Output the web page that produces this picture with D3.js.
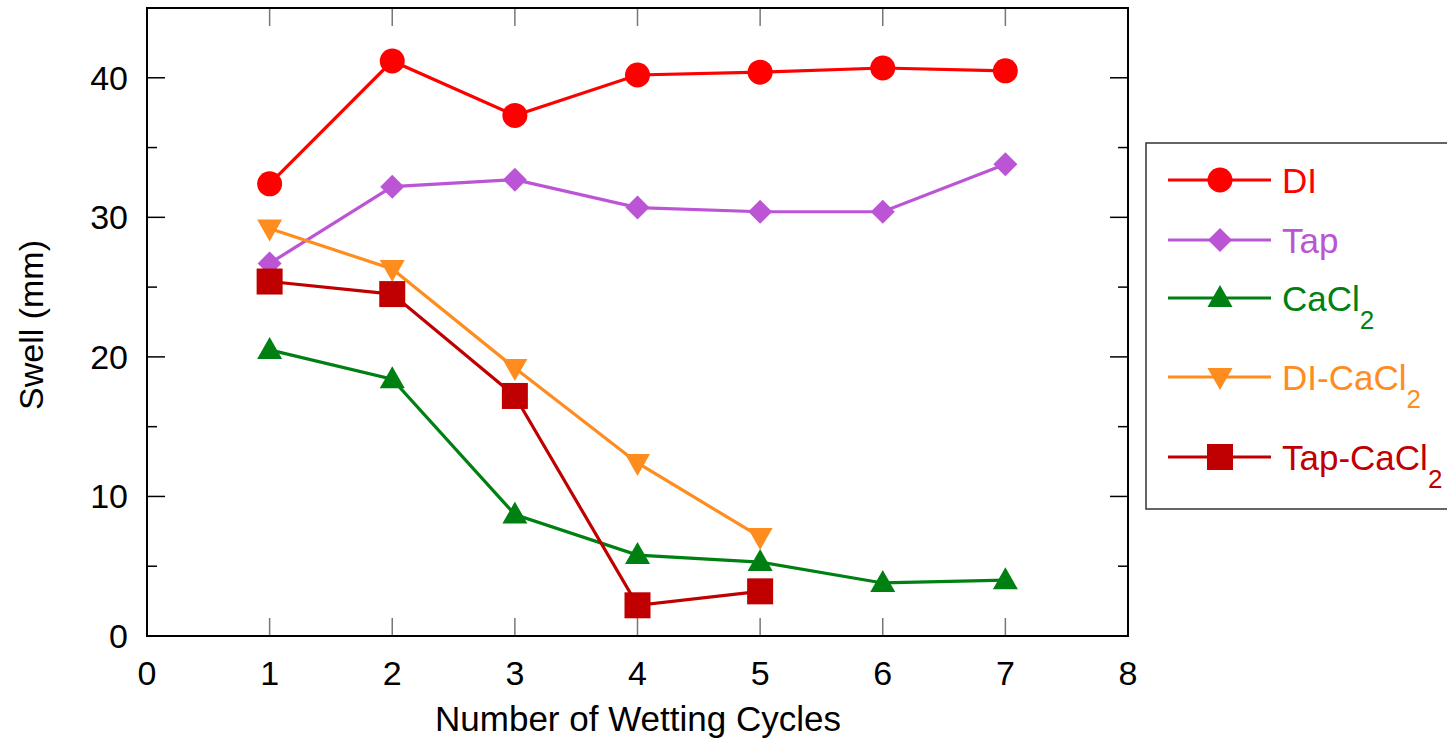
<!DOCTYPE html>
<html>
<head>
<meta charset="utf-8">
<script src="https://cdn.jsdelivr.net/npm/d3@7"></script>
<style>
  body { margin: 0; background: #fff; }
  svg { display: block; font-family: "Liberation Sans", Arial, sans-serif; }
</style>
</head>
<body>
<div id="chart"></div>
<script>
// data
const cycles = [1, 2, 3, 4, 5, 6, 7];
const diSwell = [32.4, 41.2, 37.3, 40.2, 40.4, 40.7, 40.5];
const tapSwell = [26.7, 32.2, 32.7, 30.7, 30.4, 30.4, 33.8];
const cacl2Swell = [20.5, 18.4, 8.7, 5.8, 5.3, 3.8, 4.0];
const diCacl2Swell = [29.2, 26.3, 19.2, 12.4, 7.1];
const tapCacl2Swell = [25.4, 24.5, 17.2, 2.2, 3.2];

const xTicks = [0, 1, 2, 3, 4, 5, 6, 7, 8];
const yTicks = [0, 10, 20, 30, 40];
const yMinor = [5, 15, 25, 35, 45];

const series = [
    { name: "DI", sub: "", values: diSwell, color: "#ff0000", symbol: "circle" },
    { name: "Tap", sub: "", values: tapSwell, color: "#bb55d5", symbol: "diamond" },
    { name: "CaCl", sub: "2", values: cacl2Swell, color: "#008012", symbol: "up" },
    { name: "DI-CaCl", sub: "2", values: diCacl2Swell, color: "#ff8c1e", symbol: "down" },
    { name: "Tap-CaCl", sub: "2", values: tapCacl2Swell, color: "#c00000", symbol: "square" }
];

const width = 1447, height = 743;
const margin = { top: 8, right: 319, bottom: 107, left: 147 };

const svg = d3.select("#chart").append("svg")
    .attr("width", width).attr("height", height);

const x = d3.scaleLinear().domain([0, 8]).range([margin.left, width - margin.right]);
const y = d3.scaleLinear().domain([0, 45]).range([height - margin.bottom, margin.top]);

// tick marks (all pointing into the plot)
const tickG = svg.append("g");
cycles.forEach(c => {
    tickG.append("line").attr("x1", x(c)).attr("x2", x(c))
        .attr("y1", y(0)).attr("y2", y(0) - 18).attr("stroke", "#777").attr("stroke-width", 1.5);
    tickG.append("line").attr("x1", x(c)).attr("x2", x(c))
        .attr("y1", y(45)).attr("y2", y(45) + 18).attr("stroke", "#777").attr("stroke-width", 1.5);
});
yTicks.concat(yMinor).forEach(v => {
    const len = yTicks.includes(v) ? 18 : 10;
    tickG.append("line").attr("x1", x(0)).attr("x2", x(0) + len)
        .attr("y1", y(v)).attr("y2", y(v)).attr("stroke", "#000").attr("stroke-width", 1.5);
    tickG.append("line").attr("x1", x(8)).attr("x2", x(8) - len)
        .attr("y1", y(v)).attr("y2", y(v)).attr("stroke", "#000").attr("stroke-width", 1.5);
});

// frame
svg.append("rect")
    .attr("x", x(0)).attr("y", y(45))
    .attr("width", x(8) - x(0)).attr("height", y(0) - y(45))
    .attr("fill", "none").attr("stroke", "#000").attr("stroke-width", 2);

// tick labels
svg.append("g").selectAll("text").data(xTicks).join("text")
    .attr("x", d => x(d)).attr("y", y(0) + 49)
    .attr("text-anchor", "middle").style("font-size", "34px")
    .text(d => d);
svg.append("g").selectAll("text").data(yTicks).join("text")
    .attr("x", x(0) - 19).attr("y", d => y(d) + 12)
    .attr("text-anchor", "end").style("font-size", "34px")
    .text(d => d);

// axis titles
svg.append("text")
    .attr("x", 638).attr("y", 731)
    .attr("text-anchor", "middle").style("font-size", "35px")
    .text("Number of Wetting Cycles");
svg.append("text")
    .attr("transform", `translate(43,325) rotate(-90)`)
    .attr("text-anchor", "middle").style("font-size", "34px")
    .text("Swell (mm)");

function drawMarker(g, sym, cx, cy, color) {
    if (sym === "circle") {
        g.append("circle").attr("cx", cx).attr("cy", cy).attr("r", 12.5).attr("fill", color);
    } else if (sym === "diamond") {
        g.append("path").attr("d", `M${cx},${cy - 12}L${cx + 12},${cy}L${cx},${cy + 12}L${cx - 12},${cy}Z`).attr("fill", color);
    } else if (sym === "up") {
        g.append("path").attr("d", `M${cx},${cy - 13}L${cx + 12.5},${cy + 9}L${cx - 12.5},${cy + 9}Z`).attr("fill", color);
    } else if (sym === "down") {
        g.append("path").attr("d", `M${cx},${cy + 13}L${cx + 12.5},${cy - 9}L${cx - 12.5},${cy - 9}Z`).attr("fill", color);
    } else {
        g.append("rect").attr("x", cx - 13).attr("y", cy - 13).attr("width", 26).attr("height", 26).attr("fill", color);
    }
}

const line = d3.line().x((d, i) => x(cycles[i])).y(d => y(d));

series.forEach(s => {
    const g = svg.append("g");
    g.append("path").datum(s.values)
        .attr("d", line).attr("fill", "none")
        .attr("stroke", s.color).attr("stroke-width", 3.2);
    s.values.forEach((v, i) => drawMarker(g, s.symbol, x(cycles[i]), y(v), s.color));
});

// legend
const legend = svg.append("g");
legend.append("rect")
    .attr("x", 1146).attr("y", 143).attr("width", 320).attr("height", 366)
    .attr("fill", "#fff").attr("stroke", "#333").attr("stroke-width", 1.5);
const legendY = [180, 240, 298, 377, 457];
series.forEach((s, i) => {
    const ly = legendY[i];
    legend.append("line").attr("x1", 1168).attr("x2", 1271)
        .attr("y1", ly).attr("y2", ly).attr("stroke", s.color).attr("stroke-width", 3.2);
    drawMarker(legend, s.symbol, 1220, ly, s.color);
    const t = legend.append("text")
        .attr("x", 1282).attr("y", ly + 13)
        .attr("fill", s.color).style("font-size", "35px");
    t.append("tspan").text(s.name);
    if (s.sub) t.append("tspan").attr("dy", 18).style("font-size", "26px").text(s.sub);
});
</script>
</body>
</html>
